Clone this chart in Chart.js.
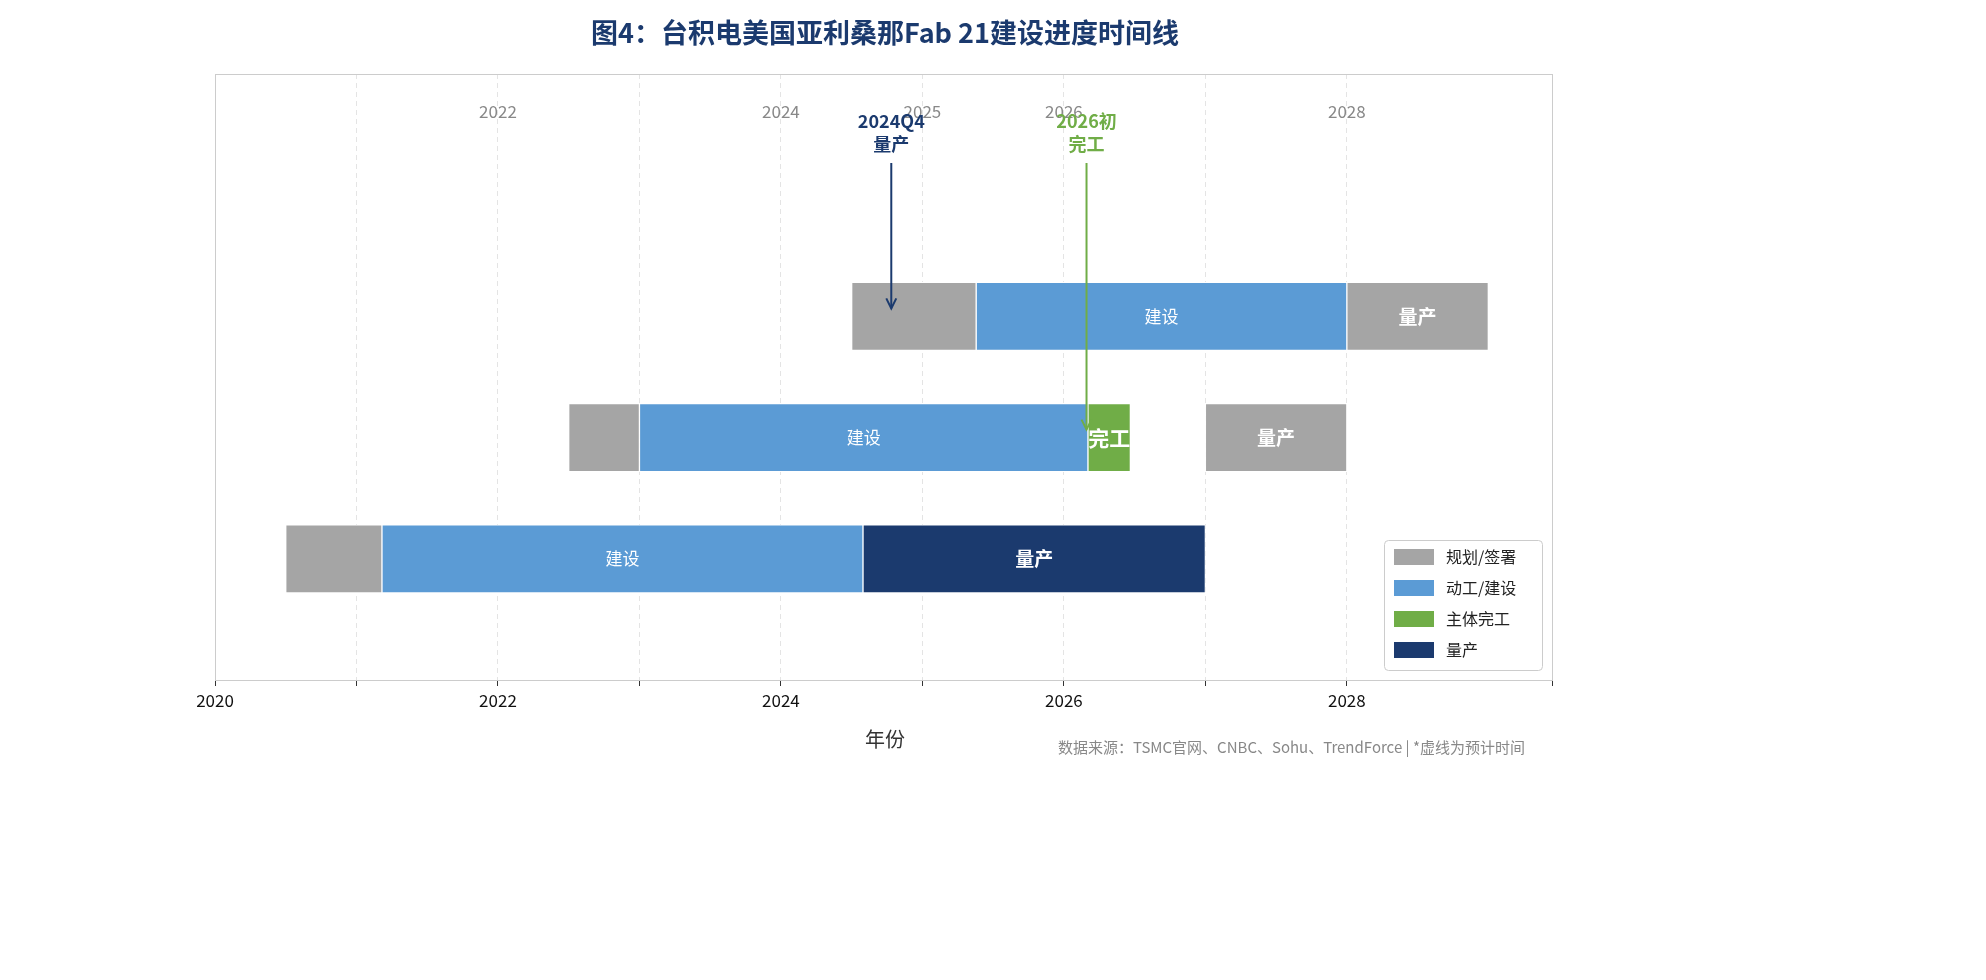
<!DOCTYPE html>
<html><head><meta charset="utf-8">
<script src="https://cdn.jsdelivr.net/npm/chart.js@4"></script>
<style>html,body{margin:0;padding:0;background:#fff}canvas{display:block}</style>
</head><body>
<canvas id="c" width="1986" height="980" style="width:1986px;height:980px"></canvas>
<script>
const categories = ['P1厂 (4nm)', 'P2厂 (3nm)', 'P3厂 (2nm/A16)'];
const planning = [[0,2020.5,2021.18],[1,2022.5,2023.0],[2,2024.5,2025.38]];
const building = [[0,2021.18,2024.58],[1,2023.0,2026.17],[2,2025.38,2028.0]];
const completed = [[1,2026.17,2026.47]];
const production = [[0,2024.58,2027.0]];
const futureProd = [[1,2027.0,2028.0],[2,2028.0,2029.0]];
const topLabels = [[2022,'2022'],[2024,'2024'],[2025,'2025'],[2026,'2026'],[2028,'2028']];
const annotations = [[2024.78,2,['2024Q4','量产'],'#1b3a6e'],[2026.16,1,['2026初','完工'],'#70ad47']];
const C={gray:'#a5a5a5',blue:'#5b9bd5',green:'#70ad47',navy:'#1b3a6e'};
const F='"Noto Sans CJK SC","Noto Sans",sans-serif';
const toData = a => a.map(r=>({y:r[0],x:[r[1],r[2]]}));
const ds=(label,data,color,txt,bold,size)=>({label,data:toData(data),backgroundColor:color,borderColor:'#fff',borderWidth:1,borderSkipped:false,barThickness:68,grouped:false,txt,bold,size});
const plugin={id:'p',
beforeDraw(ch){const c=ch.ctx;c.save();c.fillStyle='#fff';c.fillRect(0,0,ch.width,ch.height);c.restore();},
afterDatasetsDraw(ch){const c=ch.ctx,a=ch.chartArea,x=ch.scales.x,y=ch.scales.y;c.save();
 c.strokeStyle='#cccccc';c.lineWidth=1;c.strokeRect(a.left+0.5,a.top+0.5,a.width,a.height);
 ch.data.datasets.forEach((d,i)=>{if(!d.txt)return;ch.getDatasetMeta(i).data.forEach(b=>{c.fillStyle='#fff';c.font=(d.bold?'bold ':'')+d.size+'px '+F;c.textAlign='center';c.textBaseline='middle';c.fillText(d.txt,(b.x+b.base)/2,b.y);});});
 c.font='17px '+F;c.fillStyle='#888';c.textAlign='center';c.textBaseline='middle';
 topLabels.forEach(t=>c.fillText(t[1],x.getPixelForValue(t[0]),112));
 annotations.forEach(an=>{const px=x.getPixelForValue(an[0]);c.fillStyle=an[3];c.strokeStyle=an[3];c.font='bold 18px '+F;
  c.fillText(an[2][0],px,121);c.fillText(an[2][1],px,144);
  const y1=163,y2=y.getPixelForValue(an[1])-8;c.lineWidth=2;c.beginPath();c.moveTo(px,y1);c.lineTo(px,y2);c.stroke();
  c.beginPath();c.moveTo(px-5,y2-10);c.lineTo(px,y2);c.lineTo(px+5,y2-10);c.stroke();});
 c.font='bold 27px '+F;c.fillStyle='#1b3a6e';c.fillText('图4：台积电美国亚利桑那Fab 21建设进度时间线',885,33);
 c.font='20px '+F;c.fillStyle='#333';c.fillText('年份',885,739);
 c.font='15px '+F;c.fillStyle='#888';c.textAlign='right';c.fillText('数据来源：TSMC官网、CNBC、Sohu、TrendForce | *虚线为预计时间',1525,747);
 const lx=1384,ly=540,items=[['规划/签署',C.gray],['动工/建设',C.blue],['主体完工',C.green],['量产',C.navy]];
 c.fillStyle='rgba(255,255,255,0.85)';c.strokeStyle='#ccc';c.lineWidth=1;c.beginPath();c.roundRect(lx+0.5,ly+0.5,158,130,4);c.fill();c.stroke();
 c.textAlign='left';c.font='16px '+F;items.forEach((it,k)=>{const yy=ly+17+k*31;c.fillStyle=it[1];c.fillRect(lx+10,yy-8,40,16);c.fillStyle='#222';c.fillText(it[0],lx+62,yy);});
 c.restore();}};
new Chart(document.getElementById('c'),{type:'bar',
data:{datasets:[ds('规划/签署',planning,C.gray),ds('动工/建设',building,C.blue,'建设',false,17),ds('主体完工',completed,C.green,'完工',true,21),ds('量产',production,C.navy,'量产',true,19),ds('量产2',futureProd,C.gray,'量产',true,19)]},
plugins:[plugin],
options:{responsive:false,animation:false,devicePixelRatio:1,indexAxis:'y',layout:{padding:{top:74,right:434,left:0,bottom:0}},
plugins:{legend:{display:false},tooltip:{enabled:false}},
scales:{x:{type:'linear',min:2020,max:2029.45,grid:{color:'#e4e4e4',tickLength:6,tickColor:'#333'},border:{display:false,dash:[5,4]},
 ticks:{stepSize:1,color:'#111',font:{size:17,family:F},padding:4,callback:v=>(v%2===0&&v<2029)?String(v):''},afterFit(s){s.height=300;}},
 y:{type:'linear',min:-0.5,max:3.5,grid:{color:c=>(c.tick&&Number.isInteger(c.tick.value)&&c.tick.value<=2)?'#e4e4e4':'rgba(0,0,0,0)',tickLength:6,tickColor:c=>(c.tick&&Number.isInteger(c.tick.value)&&c.tick.value<=2)?'#333':'rgba(0,0,0,0)'},border:{display:false,dash:[5,4]},
 ticks:{stepSize:1,color:'#111',font:{size:20,family:F},padding:4,callback:v=>categories[v]||''},afterFit(s){s.width=215;}}}}});
</script></body></html>
